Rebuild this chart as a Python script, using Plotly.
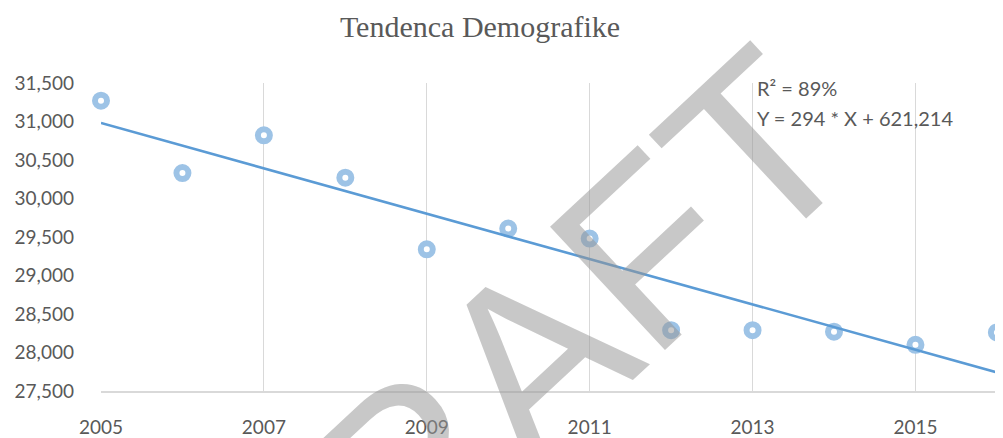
import numpy as np
import plotly.graph_objects as go

years = [2005, 2006, 2007, 2008, 2009, 2010, 2011, 2012, 2013, 2014, 2015, 2016]
population = [31270, 30330, 30820, 30270, 29340, 29610, 29480, 28290, 28290, 28270, 28100, 28260]
y_ticks = [27500, 28000, 28500, 29000, 29500, 30000, 30500, 31000, 31500]
x_ticks = [2005, 2007, 2009, 2011, 2013, 2015]
title_text = "Tendenca Demografike"
r2_text = "R² = 89%"
eq_text = "Y = 294 * X + 621,214"
watermark = "DRAFT"

slope, intercept = np.polyfit(years, population, 1)
trend_x = [years[0], years[-1]]
trend_y = [slope * x + intercept for x in trend_x]

grey = "#595959"
fig = go.Figure()
fig.add_trace(go.Scatter(
    x=years, y=population, mode="markers",
    marker=dict(symbol="circle", size=12, color="white",
                line=dict(color="#9DC3E6", width=6)),
    showlegend=False, cliponaxis=False,
))
fig.add_trace(go.Scatter(
    x=trend_x, y=trend_y, mode="lines",
    line=dict(color="#5B9BD5", width=2.6), showlegend=False,
))

fig.add_annotation(x=2013.03, y=31438, xref="x", yref="y", text=r2_text,
                   showarrow=False, xanchor="left", yanchor="middle",
                   font=dict(family="Lato", size=20, color=grey))
fig.add_annotation(x=2013.03, y=31052, xref="x", yref="y", text=eq_text,
                   showarrow=False, xanchor="left", yanchor="middle",
                   font=dict(family="Lato", size=20, color=grey))
fig.add_annotation(x=0.456, y=0.05, xref="paper", yref="paper", text=watermark,
                   showarrow=False, xanchor="center", yanchor="middle", textangle=-43,
                   font=dict(family="Liberation Sans", size=245, color="rgba(150,150,150,0.52)"))

fig.update_layout(
    width=995, height=430,
    margin=dict(l=93, r=0, t=75, b=35),
    paper_bgcolor="white", plot_bgcolor="white",
    title=dict(text=title_text, x=0.4744, xanchor="center", y=0.958, yanchor="middle",
               font=dict(family="Liberation Serif", size=30, color=grey)),
    xaxis=dict(range=[2005, 2016.075], tickvals=x_ticks, ticktext=[str(v) for v in x_ticks],
               showgrid=True, gridcolor="#D9D9D9", gridwidth=1, zeroline=False,
               showline=True, linecolor="#D9D9D9", linewidth=1.5,
               ticks="", ticklabelstandoff=18,
               tickfont=dict(family="Lato", size=19, color=grey)),
    yaxis=dict(range=[27500, 31500], tickvals=y_ticks, ticktext=[f"{v:,}" for v in y_ticks],
               showgrid=False, zeroline=False, showline=False, ticks="",
               ticklabelstandoff=26,
               tickfont=dict(family="Lato", size=19, color=grey)),
)
fig.write_html("out.html")
